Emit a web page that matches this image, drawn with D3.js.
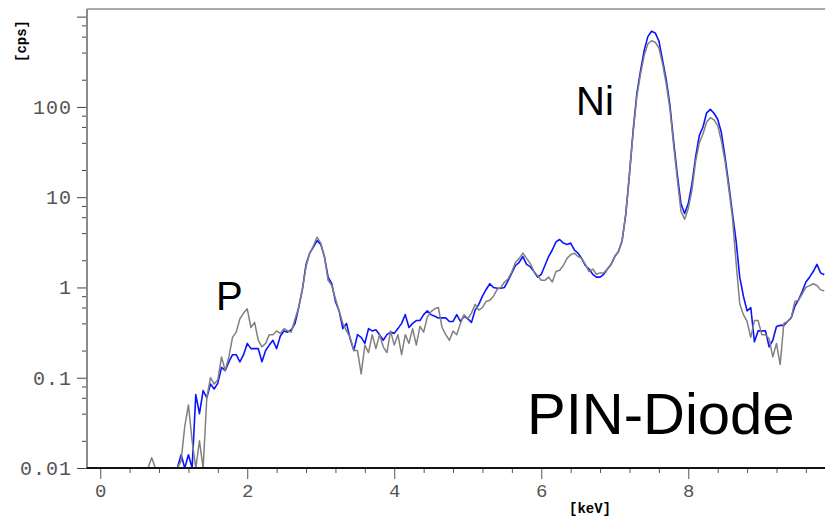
<!DOCTYPE html>
<html>
<head>
<meta charset="utf-8">
<script src="https://cdn.jsdelivr.net/npm/d3@7"></script>
<style>
  body { margin: 0; background: #fff; }
  svg { display: block; }
  .tick-label { font-family: "Liberation Mono", monospace; fill: #555; }
</style>
</head>
<body>
<svg width="825" height="517"></svg>
<script>
// energy channels (keV)
const keV = [-0.15, 0.6, 0.65, 0.7, 0.75, 0.8,
  1.05, 1.1, 1.15, 1.2, 1.25, 1.3, 1.35, 1.4, 1.45, 1.5, 1.55, 1.6, 1.65, 1.7, 1.75, 1.8, 1.85, 1.9, 1.95,
  2.0, 2.05, 2.1, 2.15, 2.2, 2.25, 2.3, 2.35, 2.4, 2.45, 2.5, 2.55, 2.6, 2.65, 2.7, 2.75, 2.8, 2.85, 2.9, 2.95,
  3.0, 3.05, 3.1, 3.15, 3.2, 3.25, 3.3, 3.35, 3.4, 3.45, 3.5, 3.55, 3.6, 3.65, 3.7, 3.75, 3.8, 3.85, 3.9, 3.95,
  4.0, 4.05, 4.1, 4.15, 4.2, 4.25, 4.3, 4.35, 4.4, 4.45, 4.5, 4.55, 4.6, 4.65, 4.7, 4.75, 4.8, 4.85, 4.9, 4.95,
  5.0, 5.05, 5.1, 5.15, 5.2, 5.25, 5.3, 5.35, 5.4, 5.45, 5.5, 5.55, 5.6, 5.65, 5.7, 5.75, 5.8, 5.85, 5.9, 5.95,
  6.0, 6.05, 6.1, 6.15, 6.2, 6.25, 6.3, 6.35, 6.4, 6.45, 6.5, 6.55, 6.6, 6.65, 6.7, 6.75, 6.8, 6.85, 6.9, 6.95,
  7.0, 7.05, 7.1, 7.15, 7.2, 7.25, 7.3, 7.35, 7.4, 7.45, 7.5, 7.55, 7.6, 7.65, 7.7, 7.75, 7.8, 7.85, 7.9, 7.95,
  8.0, 8.05, 8.1, 8.15, 8.2, 8.25, 8.3, 8.35, 8.4, 8.45, 8.5, 8.55, 8.6, 8.65, 8.7, 8.75, 8.8, 8.85, 8.9, 8.95,
  9.0, 9.05, 9.1, 9.15, 9.2, 9.25, 9.3, 9.35, 9.4, 9.45, 9.5, 9.55, 9.6, 9.65, 9.7, 9.75, 9.8, 9.85];

// PIN-diode spectrum (blue), cps
const blueCps = [0.01, 0.01, 0.01, 0.01, 0.01, 0.01,
  0.01, 0.014, 0.01, 0.014, 0.01, 0.065, 0.04, 0.072, 0.06, 0.085, 0.075, 0.087, 0.13, 0.12, 0.15, 0.18, 0.18, 0.15, 0.18,
  0.24, 0.21, 0.21, 0.21, 0.15, 0.2, 0.23, 0.26, 0.21, 0.29, 0.33, 0.32, 0.34, 0.4, 0.6, 0.95, 1.8, 2.4, 2.8, 3.3,
  3.0, 2.2, 1.3, 1.1, 0.7, 0.55, 0.35, 0.4, 0.27, 0.2, 0.3, 0.28, 0.24, 0.35, 0.33, 0.34, 0.3, 0.26, 0.3, 0.32,
  0.31, 0.35, 0.4, 0.5, 0.36, 0.4, 0.43, 0.43, 0.5, 0.55, 0.5, 0.48, 0.46, 0.46, 0.46, 0.42, 0.42, 0.5, 0.42, 0.48,
  0.45, 0.41, 0.56, 0.65, 0.8, 0.95, 1.1, 1.0, 0.98, 0.98, 1.0, 1.2, 1.45, 1.75, 1.9, 2.2, 1.8, 1.7, 1.5, 1.3,
  1.4, 1.75, 2.2, 2.6, 3.2, 3.4, 3.1, 3.0, 3.1, 2.6, 2.4, 2.1, 1.75, 1.6, 1.4, 1.3, 1.3, 1.4, 1.6, 1.8,
  2.2, 2.5, 3.3, 6.5, 18, 55, 140, 250, 420, 600, 690, 660, 540, 330, 200, 105, 42, 18, 8.5, 6.6,
  8.5, 14, 28, 48, 60, 86, 94, 85, 73, 52, 28, 14, 6.7, 3.3, 1.3, 0.8, 0.55, 0.6, 0.25, 0.33,
  0.33, 0.33, 0.22, 0.26, 0.37, 0.38, 0.38, 0.42, 0.46, 0.62, 0.73, 0.9, 1.15, 1.3, 1.5, 1.8, 1.45, 1.38];

// reference spectrum (grey), cps
const greyCps = [0.01, 0.01, 0.01, 0.013, 0.01, 0.01,
  0.01, 0.012, 0.029, 0.05, 0.02, 0.01, 0.02, 0.01, 0.06, 0.1, 0.085, 0.095, 0.17, 0.12, 0.17, 0.28, 0.32, 0.45, 0.52,
  0.58, 0.36, 0.41, 0.26, 0.22, 0.24, 0.3, 0.3, 0.33, 0.31, 0.35, 0.33, 0.32, 0.45, 0.6, 0.95, 1.7, 2.4, 2.9, 3.6,
  3.1, 2.2, 1.2, 1.05, 0.75, 0.55, 0.4, 0.33, 0.28, 0.2, 0.2, 0.11, 0.23, 0.19, 0.3, 0.21, 0.3, 0.22, 0.19, 0.33,
  0.23, 0.3, 0.18, 0.3, 0.24, 0.35, 0.23, 0.37, 0.32, 0.47, 0.54, 0.58, 0.6, 0.36, 0.3, 0.26, 0.33, 0.3, 0.4, 0.5,
  0.45, 0.52, 0.65, 0.56, 0.6, 0.7, 0.72, 0.8, 0.95, 1.0, 1.15, 1.25, 1.5, 1.9, 2.1, 2.4, 2.1, 1.85, 1.5, 1.35,
  1.2, 1.2, 1.3, 1.15, 1.5, 1.55, 1.75, 2.1, 2.3, 2.4, 2.2, 2.1, 1.8, 1.5, 1.6, 1.4, 1.45, 1.45, 1.6, 1.8,
  2.2, 2.5, 3.3, 6.5, 18, 52, 130, 230, 370, 500, 540, 520, 450, 300, 180, 95, 38, 16, 7, 5.7,
  7.5, 12, 25, 40, 50, 68, 76, 72, 62, 42, 25, 12.5, 6, 1.9, 0.66, 0.5, 0.42, 0.28, 0.43, 0.43,
  0.3, 0.3, 0.27, 0.17, 0.24, 0.14, 0.4, 0.42, 0.46, 0.7, 0.72, 0.85, 1.0, 1.05, 1.1, 1.05, 0.94, 0.92];

const yMajor = [0.01, 0.1, 1, 10, 100, 1000];
const yLabels = ["0.01", "0.1", "1", "10", "100", ""];
const xMajor = [0, 2, 4, 6, 8];
const xLabels = ["0", "2", "4", "6", "8"];

const svg = d3.select("svg");
const plotLeft = 87, plotRight = 825, plotTop = 9, plotBottom = 468;

const x = d3.scaleLinear().domain([-0.18, 9.86]).range([plotLeft, plotRight]);
const y = d3.scaleLog().domain([0.01, 1215]).range([plotBottom, plotTop]);

// minor ticks
const yMinor = [];
yMajor.slice(0, -1).forEach(d => [2, 4, 6, 8].forEach(m => { if (d * m < 1215) yMinor.push(d * m); }));
const xMinor = d3.range(0.4, 9.86, 0.4).filter(v => Math.abs(v / 2 - Math.round(v / 2)) > 0.01);

svg.append("clipPath").attr("id", "plot")
  .append("rect").attr("x", plotLeft).attr("y", plotTop)
  .attr("width", plotRight - plotLeft).attr("height", plotBottom - plotTop);

// y axis
const yAxis = svg.append("g").attr("transform", `translate(${plotLeft},0)`)
  .call(d3.axisLeft(y).tickValues(yMajor).tickFormat((d, i) => yLabels[i]).tickSize(10).tickSizeOuter(0));
yAxis.select(".domain").remove();
yAxis.selectAll(".tick line").attr("stroke", "#444");
yAxis.selectAll(".tick text")
  .attr("class", "tick-label")
  .attr("x", -15)
  .style("font-size", "20px")
  .style("letter-spacing", "1px");

svg.append("g").attr("transform", `translate(${plotLeft},0)`)
  .call(d3.axisLeft(y).tickValues(yMinor).tickFormat("").tickSize(5).tickSizeOuter(0))
  .call(g => g.select(".domain").remove())
  .selectAll(".tick line").attr("stroke", "#444");

// x axis
const xAxis = svg.append("g").attr("transform", `translate(0,${plotBottom})`)
  .call(d3.axisBottom(x).tickValues(xMajor).tickFormat((d, i) => xLabels[i]).tickSize(11).tickSizeOuter(0));
xAxis.select(".domain").remove();
xAxis.selectAll(".tick line").attr("stroke", "#555");
xAxis.selectAll(".tick text")
  .attr("class", "tick-label")
  .attr("y", 16)
  .style("font-size", "19px");

svg.append("g").attr("transform", `translate(0,${plotBottom})`)
  .call(d3.axisBottom(x).tickValues(xMinor).tickFormat("").tickSize(5).tickSizeOuter(0))
  .call(g => g.select(".domain").remove())
  .selectAll(".tick line").attr("stroke", "#555");

// frame
svg.append("line").attr("x1", plotLeft).attr("x2", plotRight).attr("y1", plotTop).attr("y2", plotTop)
  .attr("stroke", "#555").attr("stroke-width", 1.2);
svg.append("line").attr("x1", plotLeft).attr("x2", plotLeft).attr("y1", plotTop).attr("y2", plotBottom)
  .attr("stroke", "#8a8a8a").attr("stroke-width", 2);

// spectra
const line = d3.line()
  .x(d => x(d[0]))
  .y(d => y(Math.max(d[1], 0.01)));

const plot = svg.append("g").attr("clip-path", "url(#plot)");
plot.append("path")
  .datum(keV.map((k, i) => [k, blueCps[i]]))
  .attr("fill", "none").attr("stroke", "#0a14ff").attr("stroke-width", 1.6)
  .attr("stroke-linejoin", "round")
  .attr("d", line);
plot.append("path")
  .datum(keV.map((k, i) => [k, greyCps[i]]))
  .attr("fill", "none").attr("stroke", "#808080").attr("stroke-width", 1.5)
  .attr("stroke-linejoin", "round")
  .attr("d", line);

// bottom axis line on top
svg.append("line").attr("x1", plotLeft).attr("x2", plotRight).attr("y1", plotBottom).attr("y2", plotBottom)
  .attr("stroke", "#111").attr("stroke-width", 2);

// axis titles
svg.append("text")
  .attr("transform", "translate(26,41) rotate(-90)")
  .attr("text-anchor", "middle")
  .style("font-family", "Liberation Mono, monospace")
  .style("font-weight", "bold")
  .style("font-size", "14px")
  .text("[cps]");
svg.append("text")
  .attr("x", 590).attr("y", 513)
  .attr("text-anchor", "middle")
  .style("font-family", "Liberation Mono, monospace")
  .style("font-weight", "bold")
  .style("font-size", "14px")
  .text("[keV]");

// annotations
const ann = svg.append("g").style("font-family", "Liberation Sans, Arial, sans-serif").attr("fill", "#000");
ann.append("text").attr("x", 216).attr("y", 310).style("font-size", "40px").text("P");
ann.append("text").attr("x", 576).attr("y", 115).style("font-size", "40px").text("Ni");
ann.append("text").attr("x", 527).attr("y", 434).style("font-size", "58px").text("PIN-Diode");
</script>
</body>
</html>
